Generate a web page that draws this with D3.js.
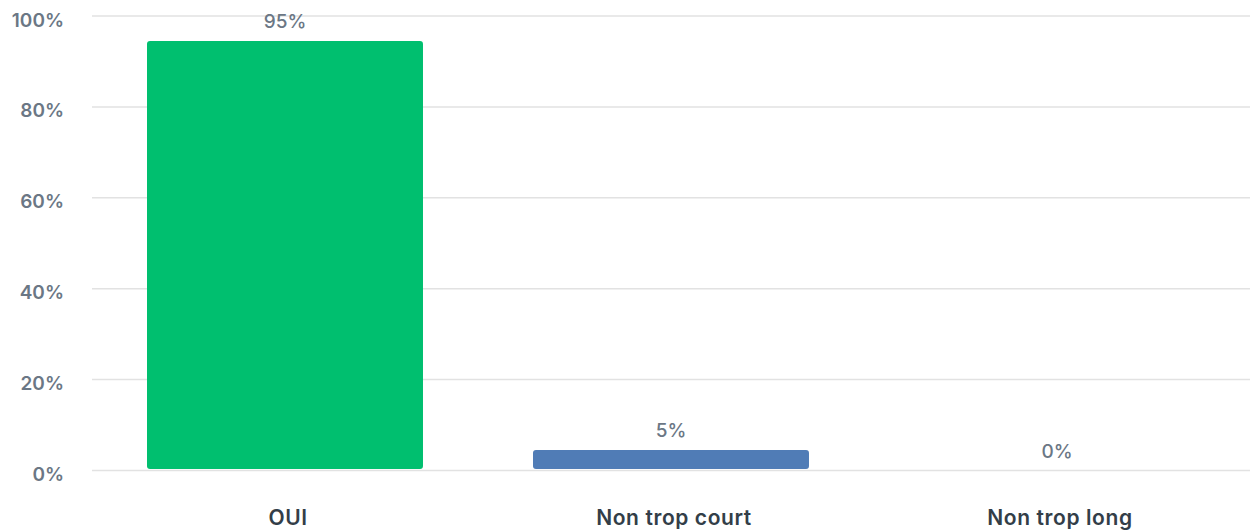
<!DOCTYPE html>
<html>
<head>
<meta charset="utf-8">
<script src="https://cdn.jsdelivr.net/npm/d3@7"></script>
<style>
  body { margin: 0; background: #fff; }
  svg { display: block; font-family: Inter, sans-serif; }
  .grid line { stroke: #e2e2e2; stroke-width: 1.5; }
  .tick-lbl { fill: #6b7785; font-size: 19px; font-weight: 600; }
  .val-lbl { fill: #6b7785; font-size: 19px; font-weight: 500; }
  .cat-lbl { fill: #333e48; font-size: 21px; font-weight: 600; letter-spacing: 0.6px; }
</style>
</head>
<body>
<svg id="chart"></svg>
<script>
// Data
const categories = ['OUI', 'Non trop court', 'Non trop long']
const values = [94.5, 4.5, 0]
const colors = ['#00bf6f', '#507cb6', '#507cb6']
const yTicks = [0, 20, 40, 60, 80, 100]

const W = 1250, H = 531
const m = {top: 16, right: 0, bottom: 60.5, left: 92}

const svg = d3.select('#chart').attr('width', W).attr('height', H)

const x = d3.scaleBand().domain(categories).range([m.left, W - m.right]).paddingInner(0.285).paddingOuter(0.1425)
const y = d3.scaleLinear().domain([0, 100]).range([H - m.bottom, m.top])

/* Grid */
svg.append('g').attr('class', 'grid')
    .selectAll('line').data(yTicks).enter()
    .append('line')
    .attr('x1', m.left).attr('x2', W - m.right)
    .attr('y1', d => y(d)).attr('y2', d => y(d))

/* Y tick labels */
svg.selectAll('.tick-lbl').data(yTicks).enter()
    .append('text')
    .attr('class', 'tick-lbl')
    .attr('text-anchor', 'end')
    .attr('x', 64)
    .attr('y', d => y(d) + 10.5)
    .text(d => d + '%')

/* Bars */
svg.selectAll('.bar').data(values).enter()
    .filter(d => d > 0)
    .append('rect')
    .attr('class', 'bar')
    .attr('x', (d, i) => x(categories[i]))
    .attr('width', x.bandwidth())
    .attr('y', d => y(d))
    .attr('height', d => y(0) - 1.5 - y(d))
    .attr('rx', 3)
    .attr('fill', (d, i) => colors[i])

/* Value labels */
svg.selectAll('.val-lbl').data(values).enter()
    .append('text')
    .attr('class', 'val-lbl')
    .attr('text-anchor', 'middle')
    .attr('x', (d, i) => x(categories[i]) + x.bandwidth() / 2)
    .attr('y', d => y(d) - 13)
    .text(d => Math.round(d) + '%')

/* Category labels */
svg.selectAll('.cat-lbl').data(categories).enter()
    .append('text')
    .attr('class', 'cat-lbl')
    .attr('text-anchor', 'middle')
    .attr('x', d => x(d) + x.bandwidth() / 2 + 3)
    .attr('y', 525)
    .text(d => d)
</script>
</body>
</html>
